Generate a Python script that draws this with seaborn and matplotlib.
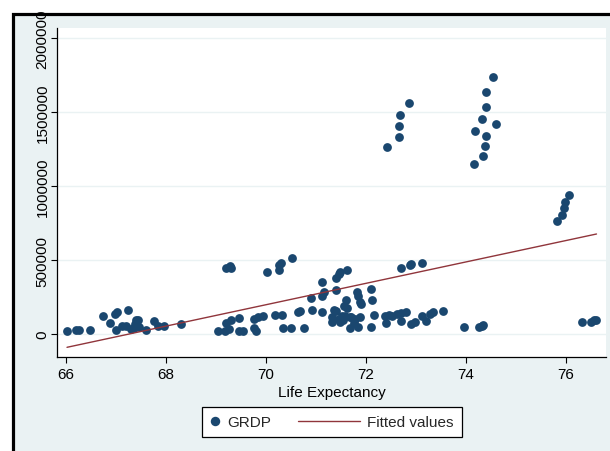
import numpy as np
import pandas as pd
import matplotlib
matplotlib.use("Agg")
import matplotlib.pyplot as plt
import seaborn as sns
from matplotlib.lines import Line2D
from matplotlib.legend_handler import HandlerBase
from matplotlib.patches import Rectangle

# ---- data ----
life_expectancy = [
    66.02, 66.19, 66.25, 66.49, 66.74, 66.87, 66.99, 67.02, 67.24, 67.00,
    67.12, 67.19, 67.30, 67.37, 67.41, 67.44, 67.36, 67.45, 67.60, 67.76,
    67.83, 67.96, 68.29,
    69.04, 69.17, 69.21, 69.29, 69.25, 69.45, 69.46, 69.53, 69.77, 69.79,
    69.76, 69.85, 69.93, 70.18, 70.32, 70.35, 70.50, 70.64, 70.68, 70.76,
    69.20, 69.29, 69.28, 70.01, 70.25, 70.27, 70.29, 70.52,
    70.91, 70.92, 71.11, 71.15, 71.13, 71.12, 71.36, 71.39, 71.33, 71.33,
    71.45, 71.51, 71.59, 71.57, 71.63, 71.58, 71.47, 71.55, 71.67, 71.71,
    71.78, 71.87, 71.76, 71.68, 71.85, 71.39, 71.40, 71.45, 71.48, 71.61,
    71.81, 71.85, 71.88, 71.89, 72.09, 72.12, 72.15, 72.09,
    72.38, 72.41, 72.45, 72.51, 72.61, 72.70, 72.79, 72.70, 72.89, 72.99,
    73.12, 73.21, 73.28, 73.35, 73.55,
    72.71, 72.87, 72.91, 73.11,
    73.95, 74.26, 74.31, 74.35, 76.33, 76.50, 76.56, 76.61,
    72.42, 72.66, 72.66, 72.68, 72.86,
    74.16, 74.34, 74.37, 74.40, 74.18, 74.60, 74.33, 74.39, 74.39, 74.54,
    75.83, 75.92, 75.95, 75.99, 76.07,
]
grdp = [
    23600, 27000, 29000, 30400, 121600, 72300, 131800, 148700, 158800, 27000,
    54000, 56100, 33800, 64200, 92600, 96600, 38500, 47300, 27000, 89900,
    57400, 57400, 64200,
    20300, 22300, 74300, 96000, 33800, 106100, 22300, 22300, 42600, 20300,
    101400, 114900, 119600, 128400, 128400, 38500, 39200, 146600, 153400, 42600,
    444000, 442600, 456100, 416900, 435800, 462900, 483100, 511500,
    241200, 162200, 349300, 281800, 254700, 146600, 164200, 155400, 112800, 79100,
    101400, 123700, 231800, 191200, 173700, 123700, 79100, 96600, 116900, 112800,
    101400, 112800, 74300, 40500, 49300, 299300, 376400, 405400, 421000, 434500,
    281800, 258800, 214200, 202700, 304100, 231800, 128400, 49300,
    123700, 74300, 128400, 123700, 135100, 141900, 146600, 89900, 69600, 79100,
    123700, 89900, 135100, 150700, 153400,
    446000, 466200, 473000, 479700,
    49300, 49300, 56100, 60800, 79100, 83100, 92600, 96600,
    1261500, 1329100, 1403400, 1479800, 1563000,
    1146700, 1204800, 1272400, 1340000, 1371700, 1417000, 1450700, 1536000, 1633000, 1734500,
    763500, 806000, 849300, 894000, 941300,
]
# fitted values (linear fit as drawn in the reference, read at its two ends)
fitted_x = [66.02, 76.61]
fitted_y = [-89900, 675700]

x_ticks = [66, 68, 70, 72, 74, 76]
y_ticks = [0, 500000, 1000000, 1500000, 2000000]
x_label = "Life Expectancy"
legend_labels = ["GRDP", "Fitted values"]

df = pd.DataFrame({"life": life_expectancy, "grdp": grdp})
df_fit = pd.DataFrame({"life": fitted_x, "fit": fitted_y})

# ---- style ----
sns.set_theme(style="white")
plt.rcParams["font.family"] = ["Liberation Sans", "DejaVu Sans"]
navy = "#1A476F"
maroon = "#90353B"
bg = "#EAF2F3"

fig = plt.figure(figsize=(6.10, 4.52), dpi=100, facecolor="white")
W, H = 610.0, 452.0
# outer graph region with thick black border (cropped at right/bottom)
fig.patches.append(Rectangle((13 / W, -0.1), 1.2, 1 - 14.7 / H + 0.1,
                             transform=fig.transFigure, facecolor=bg,
                             edgecolor="black", linewidth=2.3, zorder=-5))

ax = fig.add_axes([57 / W, 1 - 358 / H, (606 - 57) / W, (358 - 29) / H])
ax.set_zorder(2)
ax.set_facecolor("white")

sns.scatterplot(data=df, x="life", y="grdp", ax=ax, color=navy, s=40,
                edgecolor=navy, linewidth=0, zorder=3, legend=False)
sns.lineplot(data=df_fit, x="life", y="fit", ax=ax, color=maroon, lw=1.0,
             zorder=4, legend=False)

ax.set_xlim(65.82, 76.80)
ax.set_ylim(-155400, 2067600)
ax.set_xticks(x_ticks)
ax.set_xticklabels([str(t) for t in x_ticks])
ax.set_yticks(y_ticks)
ax.set_yticklabels([str(t) for t in y_ticks], rotation=90, va="center")
ax.grid(axis="y", color=bg, lw=1.0)
ax.set_axisbelow(True)
for s in ["top", "right"]:
    ax.spines[s].set_visible(False)
for s in ["left", "bottom"]:
    ax.spines[s].set_color("black")
    ax.spines[s].set_linewidth(0.9)
ax.tick_params(axis="both", direction="out", length=4.3, width=0.8,
               color="black", labelsize=11, labelcolor="black", pad=3,
               left=True, bottom=True)
ax.tick_params(axis="y", pad=1.0)
ax.set_xlabel(x_label, fontsize=11, color="black", labelpad=3)
ax.set_ylabel("")


class LongLineHandler(HandlerBase):
    def create_artists(self, legend, orig_handle, xdescent, ydescent,
                       width, height, fontsize, trans):
        ext = 38.0
        y = height / 2.0 - ydescent
        ln = Line2D([-xdescent - ext, -xdescent + width], [y, y],
                    color=orig_handle.get_color(), lw=orig_handle.get_linewidth())
        ln.set_transform(trans)
        return [ln]


h_pts = Line2D([], [], marker="o", linestyle="none", color=navy,
               markersize=6.8, markeredgewidth=0)
h_fit = Line2D([], [], color=maroon, lw=1.0)
leg = fig.legend([h_pts, h_fit], legend_labels, ncol=2,
                 loc="center", bbox_to_anchor=(332 / W, 1 - 423 / H),
                 frameon=True, fancybox=False, edgecolor="black",
                 framealpha=1, fontsize=11, handlelength=0.6,
                 handletextpad=0.5, columnspacing=5.2, borderpad=0.55,
                 handler_map={h_fit: LongLineHandler()})
leg.get_frame().set_linewidth(0.9)

fig.savefig("out.png", dpi=100, facecolor="white")
